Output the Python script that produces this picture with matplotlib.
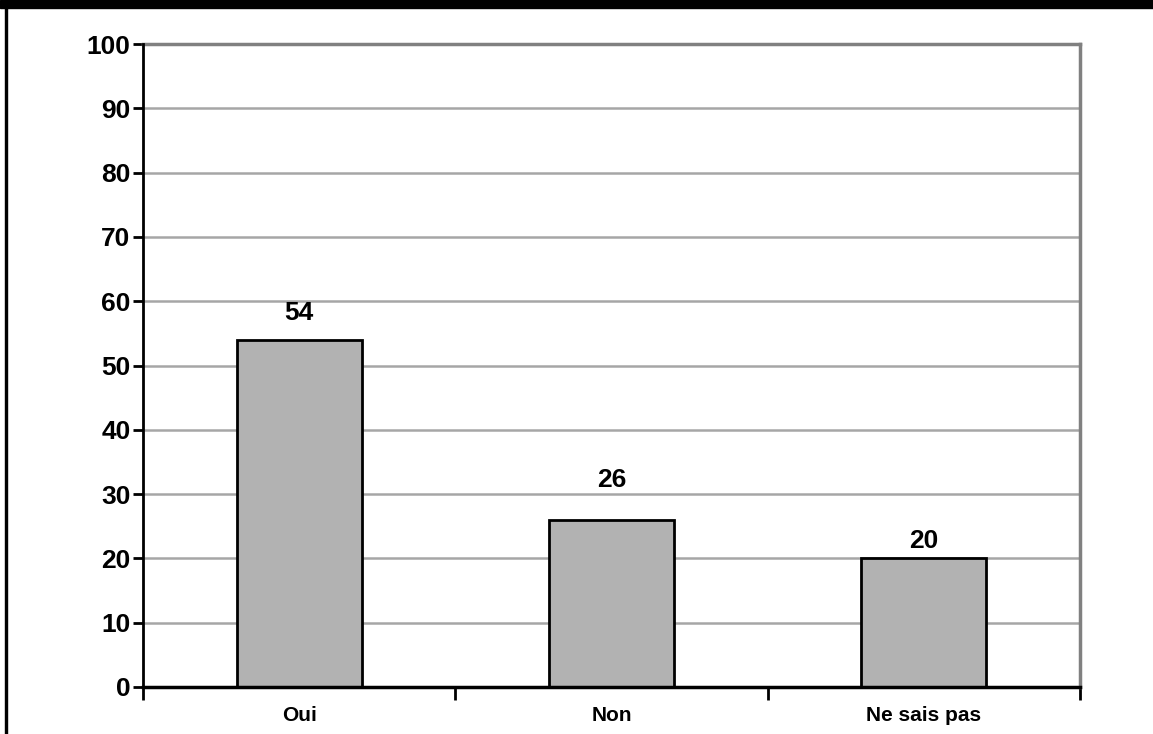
import matplotlib
matplotlib.use("Agg")
import matplotlib.pyplot as plt
from matplotlib.patches import Rectangle

categories = ["Oui", "Non", "Ne sais pas"]
values = [54, 26, 20]

# label offset above each bar top, in pixels (the source chart is not uniform)
label_gap_px = [27, 40, 17]

plt.rcParams['font.family'] = ['Liberation Sans', 'DejaVu Sans']

fig = plt.figure(figsize=(11.53, 7.34), dpi=100)
ax = fig.add_axes([143 / 1153, 1 - 687 / 734, (1080 - 143) / 1153, (687 - 44) / 734])

x = list(range(len(categories)))
ax.bar(x, values, width=0.4, color='#b2b2b2', edgecolor='black', linewidth=2, zorder=3)

for xi, v, gap in zip(x, values, label_gap_px):
    ax.annotate(str(v), (xi, v), xytext=(0, gap * 0.72), textcoords='offset points',
                ha='center', va='center', fontsize=19, fontweight='bold', zorder=4)

ax.set_xlim(-0.5, len(categories) - 0.5)
ax.set_ylim(0, 100)
ax.set_yticks(range(0, 101, 10))
ax.yaxis.grid(True, color='#a6a6a6', linewidth=1.8, zorder=0)
ax.set_axisbelow(True)

ax.set_xticks(x)
ax.set_xticklabels(categories, fontsize=15, fontweight='bold')
ax.set_xticks([i - 0.5 for i in range(len(categories) + 1)], minor=True)
ax.tick_params(axis='x', which='major', length=0, pad=14)
ax.tick_params(axis='x', which='minor', length=9, width=2, direction='out')
ax.tick_params(axis='y', length=7, width=2, direction='out', labelsize=19, pad=2)
for lab in ax.get_yticklabels():
    lab.set_fontweight('bold')

ax.spines['left'].set_linewidth(2)
ax.spines['bottom'].set_linewidth(2.5)
ax.spines['left'].set_zorder(5)
ax.spines['bottom'].set_zorder(5)
ax.spines['top'].set_color('#808080')
ax.spines['right'].set_color('#808080')
ax.spines['top'].set_linewidth(2.5)
ax.spines['right'].set_linewidth(2.5)

# frame of the original picture: black band on top, thin line on the left
fig.patches.append(Rectangle((0, 1 - 8 / 734), 1, 8 / 734, transform=fig.transFigure,
                             color='black', zorder=10))
fig.patches.append(Rectangle((5 / 1153, 0), 2 / 1153, 1, transform=fig.transFigure,
                             color='black', zorder=10))

fig.savefig("out.png", dpi=100)
